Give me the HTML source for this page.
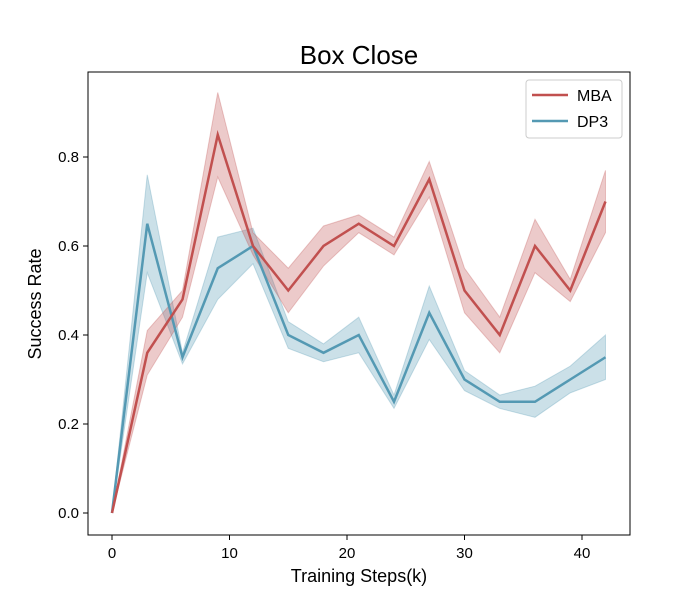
<!DOCTYPE html>
<html><head><meta charset="utf-8"><style>
body{margin:0;background:#fff;}
svg text{font-family:"Liberation Sans","DejaVu Sans",sans-serif;}
</style></head><body>
<svg id="chart" width="700" height="600" xmlns="http://www.w3.org/2000/svg">
<g id="bands"></g><g id="lines"></g>
<rect x="88" y="72" width="542" height="463" fill="none" stroke="#000" stroke-width="1"/>
<g id="xticks"></g><g id="yticks"></g>
<text x="359" y="64" font-size="26" text-anchor="middle">Box Close</text>
<text x="359" y="582" font-size="18" text-anchor="middle">Training Steps(k)</text>
<text transform="translate(41,304) rotate(-90)" font-size="18" text-anchor="middle">Success Rate</text>
<g>
<rect x="526" y="80" width="96" height="58" rx="3" fill="#fff" stroke="#ccc"/>
<line x1="532" y1="95" x2="568" y2="95" stroke="#c1504f" stroke-width="2.5"/>
<text x="577" y="101" font-size="16">MBA</text>
<line x1="532" y1="121" x2="568" y2="121" stroke="#5499b3" stroke-width="2.5"/>
<text x="577" y="127" font-size="16">DP3</text>
</g>
</svg>
<script>
const steps=[0,3,6,9,12,15,18,21,24,27,30,33,36,39,42];
const mbaMean=[0,0.36,0.48,0.85,0.6,0.5,0.6,0.65,0.6,0.75,0.5,0.4,0.6,0.5,0.7];
const mbaLo=[0,0.31,0.44,0.755,0.58,0.45,0.555,0.63,0.58,0.71,0.45,0.36,0.54,0.475,0.63];
const mbaHi=[0,0.41,0.50,0.945,0.63,0.55,0.645,0.67,0.62,0.79,0.55,0.44,0.66,0.525,0.77];
const dpMean=[0,0.65,0.35,0.55,0.6,0.4,0.36,0.4,0.25,0.45,0.3,0.25,0.25,0.3,0.35];
const dpLo=[0,0.54,0.335,0.48,0.56,0.37,0.34,0.36,0.235,0.39,0.275,0.235,0.215,0.27,0.30];
const dpHi=[0,0.76,0.36,0.62,0.64,0.43,0.38,0.44,0.265,0.51,0.32,0.265,0.285,0.33,0.40];
const xTicks=[0,10,20,30,40];
const yTicks=[0.0,0.2,0.4,0.6,0.8];
const X=v=>112+v*11.75, Y=v=>513-v*445;
const NS='http://www.w3.org/2000/svg';
function mk(t,a,p){const e=document.createElementNS(NS,t);for(const k in a)e.setAttribute(k,a[k]);p.appendChild(e);return e;}
const bands=document.getElementById('bands'),lines=document.getElementById('lines');
function series(mean,lo,hi,col,name){
  const top=steps.map((s,i)=>X(s)+','+Y(hi[i]));
  const bot=steps.map((s,i)=>X(s)+','+Y(lo[i])).reverse();
  const b=mk('polygon',{points:top.concat(bot).join(' '),fill:col,'fill-opacity':0.3,stroke:col,'stroke-opacity':0.3},bands);
  
  
  const l=mk('polyline',{points:steps.map((s,i)=>X(s)+','+Y(mean[i])).join(' '),fill:'none',stroke:col,'stroke-width':2.5},lines);
  
  
}
series(dpMean,dpLo,dpHi,'#5499b3','dp3');
series(mbaMean,mbaLo,mbaHi,'#c1504f','mba');
const xt=document.getElementById('xticks'),yt=document.getElementById('yticks');
xTicks.forEach(v=>{mk('line',{x1:X(v),x2:X(v),y1:535,y2:540,stroke:'#000'},xt);
 const t=mk('text',{x:X(v),y:558,'font-size':15,'text-anchor':'middle'},xt);t.textContent=v;
 
 });
yTicks.forEach(v=>{mk('line',{x1:83,x2:88,y1:Y(v),y2:Y(v),stroke:'#000'},yt);
 const t=mk('text',{x:79,y:Y(v)+5,'font-size':15,'text-anchor':'end'},yt);t.textContent=v.toFixed(1);
 
 });
</script>
</body></html>
